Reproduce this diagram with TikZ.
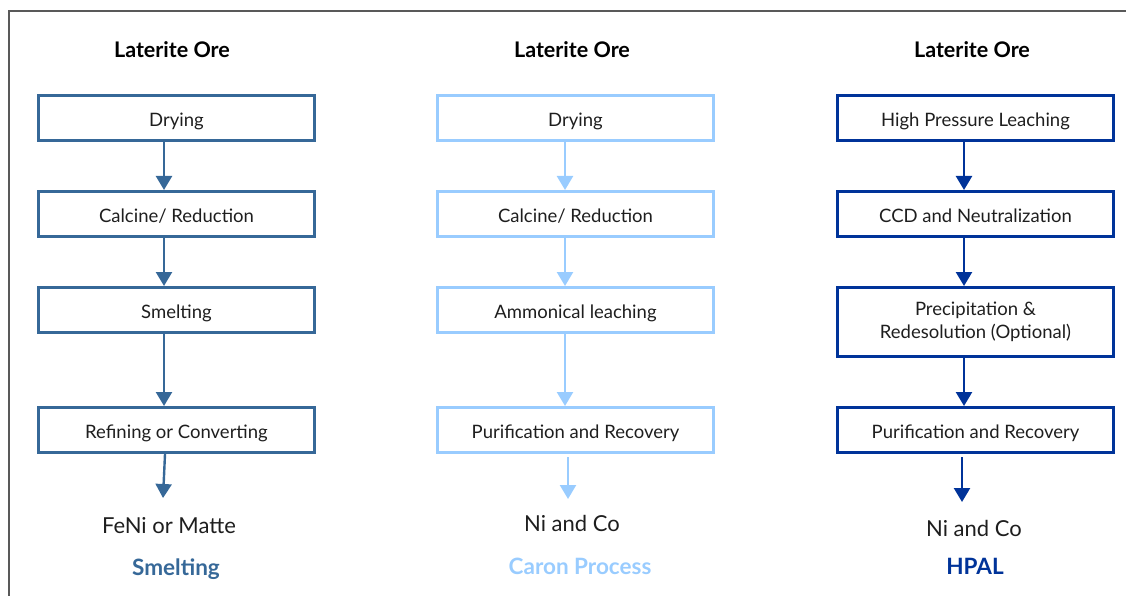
\documentclass[tikz,border=0pt]{standalone}
\usepackage{fontspec}
\setmainfont{Lato}
\usetikzlibrary{arrows.meta}
\definecolor{cA}{RGB}{54,104,152}
\definecolor{cB}{RGB}{153,204,255}
\definecolor{cC}{RGB}{0,51,153}
\definecolor{txt}{RGB}{30,30,30}
\begin{document}
\begin{tikzpicture}[x=1pt,y=-1pt,
  stepbase/.style={draw=#1,line width=3.4pt,minimum width=276pt,minimum height=45pt,inner sep=0pt,align=center,font=\fontsize{18.5}{23}\selectfont,text=txt},
  stepbox/.style={stepbase=#1,text height=20pt,text depth=2.2pt},
  flow/.style={draw=#1,line width=2.4pt,-{Triangle[width=16pt,length=14pt]}},
  head/.style={font=\fontsize{21.5}{26}\selectfont\bfseries,text=black},
  prod/.style={font=\fontsize{22}{26}\selectfont,text=txt},
  proc/.style={font=\fontsize{22.5}{27}\selectfont\bfseries,text=#1}]
\useasboundingbox (0,0) rectangle (1126,596);
\draw[line width=1.8pt,draw=black!65] (9,600) -- (9,11) -- (1130,11);

% column 1
\node[head] (h1) at (172,50) {Laterite Ore};
\node[stepbox=cA] (a1) at (176.5,118) {Drying};
\node[stepbox=cA] (a2) at (176.5,214) {Calcine/ Reduction};
\node[stepbox=cA] (a3) at (176.5,310) {Smelting};
\node[stepbox=cA] (a4) at (176.5,430) {Refining or Converting};
\node[prod] (p1) at (169,526) {FeNi or Matte};
\node[proc=cA] (t1) at (176,569) {Smelting};
\coordinate (e1) at (163,498);
\draw[flow=cA] (164,142) -- (164,190);
\draw[flow=cA] (164,238) -- (164,286);
\draw[flow=cA] (164,334) -- (164,406);
\draw[flow=cA] (a4.south -| 165,0) -- (e1);

% column 2
\node[head] (h2) at (572,50) {Laterite Ore};
\node[stepbox=cB] (b1) at (575.5,118) {Drying};
\node[stepbox=cB] (b2) at (575.5,214) {Calcine/ Reduction};
\node[stepbox=cB] (b3) at (575.5,310) {Ammonical leaching};
\node[stepbox=cB] (b4) at (575.5,430) {Purification and Recovery};
\node[prod] (p2) at (572,523) {Ni and Co};
\node[proc=cB] (t2) at (580,566) {Caron Process};
\coordinate (e2) at (568,499);
\draw[flow=cB] (565,142) -- (565,190);
\draw[flow=cB] (565,238) -- (565,286);
\draw[flow=cB] (565,334) -- (565,406);
\draw[flow=cB] (568,457) -- (e2);

% column 3
\node[head] (h3) at (972,50) {Laterite Ore};
\node[stepbox=cC] (c1) at (975.5,118) {High Pressure Leaching};
\node[stepbox=cC] (c2) at (975.5,214) {CCD and Neutralization};
\node[stepbase=cC,minimum height=69pt] (c3) at (975.5,322) {Precipitation \&\\Redesolution (Optional)};
\node[stepbox=cC] (c4) at (975.5,430) {Purification and Recovery};
\node[prod] (p3) at (974,528) {Ni and Co};
\node[proc=cC] (t3) at (975,566) {HPAL};
\coordinate (e3) at (962,502);
\draw[flow=cC] (964,142) -- (964,190);
\draw[flow=cC] (964,238) -- (964,286);
\draw[flow=cC] (964,358) -- (964,406);
\draw[flow=cC] (962,457) -- (e3);
\end{tikzpicture}
\end{document}
